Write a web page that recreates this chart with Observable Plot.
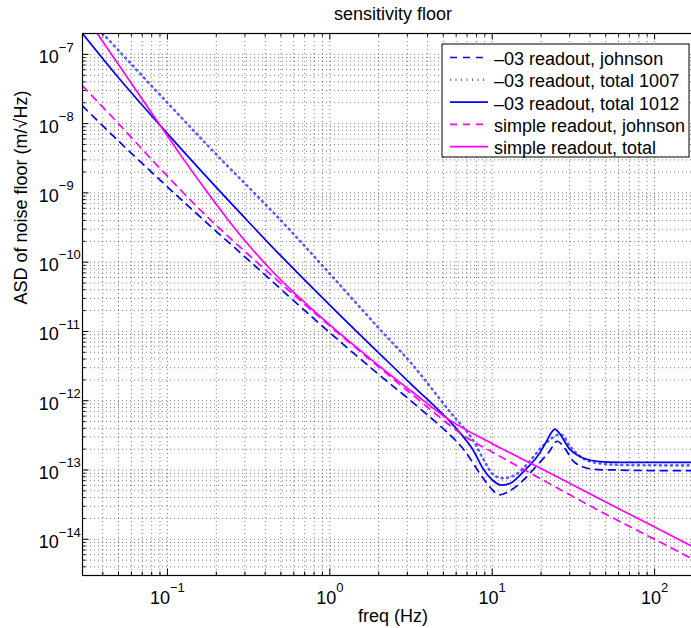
<!DOCTYPE html>
<html><head><meta charset="utf-8">
<script src="https://cdn.jsdelivr.net/npm/d3@7"></script>
<script src="https://cdn.jsdelivr.net/npm/@observablehq/plot@0.6"></script>
<style>
html,body{margin:0;padding:0;background:#fff;overflow:hidden;}
#chart{width:691px;height:628px;overflow:hidden;position:relative;}
</style></head><body><div id="chart"></div>
<script>
// ---- data ----
const seriesNames = ["–03 readout, johnson", "–03 readout, total 1007", "–03 readout, total 1012", "simple readout, johnson", "simple readout, total"];

const fBlueJohnson = [0.03, 0.05, 0.091, 0.156, 0.316, 1, 2, 3.2, 5.5, 6.7, 8.5, 9.8, 11, 13, 15.6, 18.9, 22.3, 25.1, 28.2, 31.8, 38.5, 59, 100, 200];
const aBlueJohnson = [1.8e-8, 5.6e-9, 1.5e-9, 4.7e-10, 1.07e-10, 9.6e-12, 2.4e-12, 9.7e-13, 3.2e-13, 1.95e-13, 8.5e-14, 5.5e-14, 4.4e-14, 5.1e-14, 7.2e-14, 1.17e-13, 1.8e-13, 2.6e-13, 2.0e-13, 1.32e-13, 1.06e-13, 1.0e-13, 9.8e-14, 9.8e-14];

const fBlue1007 = [0.04, 0.05, 0.1, 0.2, 0.5, 1, 2, 3.2, 5.5, 7.4, 8.9, 10.2, 11.8, 14.3, 17.2, 20.8, 25.1, 27, 30.3, 36.6, 46.5, 100, 200];
const aBlue1007 = [2.0e-7, 1.14e-7, 2.0e-8, 3.6e-9, 4.0e-10, 6.8e-11, 1.12e-11, 3.4e-12, 6.9e-13, 3.0e-13, 1.38e-13, 8.5e-14, 7.6e-14, 8.9e-14, 1.38e-13, 2.3e-13, 3.2e-13, 3.2e-13, 2.16e-13, 1.45e-13, 1.24e-13, 1.17e-13, 1.17e-13];

const fBlue1012 = [0.03, 0.05, 0.091, 0.2, 0.31, 0.5, 1, 2, 3.2, 5.5, 7.4, 8.9, 10, 11.2, 13, 15.6, 18.9, 21.8, 23, 24.3, 25.5, 27, 30.3, 36.6, 46.5, 70, 100, 200];
const aBlue1012 = [2.0e-7, 4.6e-8, 9.2e-9, 1.2e-9, 4.0e-10, 1.23e-10, 2.4e-11, 4.9e-12, 1.7e-12, 5.0e-13, 2.16e-13, 1.0e-13, 7.2e-14, 6.1e-14, 6.5e-14, 9.5e-14, 1.55e-13, 2.7e-13, 3.4e-13, 3.9e-13, 3.55e-13, 2.95e-13, 1.95e-13, 1.48e-13, 1.32e-13, 1.29e-13, 1.29e-13, 1.29e-13];

const fSimpleJohnson = [0.03, 0.05, 0.091, 0.173, 0.316, 0.6, 1, 2, 3.2, 6.65, 10, 20, 50, 100, 200];
const aSimpleJohnson = [3.5e-8, 1.0e-8, 2.2e-9, 4.7e-10, 1.28e-10, 3.38e-11, 1.2e-11, 3.07e-12, 1.24e-12, 3.16e-13, 1.82e-13, 7.4e-14, 2.3e-14, 1.0e-14, 4.3e-15];

const fSimpleTotal = [0.037, 0.05, 0.07, 0.091, 0.12, 0.173, 0.24, 0.316, 0.45, 0.6, 1, 2, 3.2, 5.5, 10, 20, 50, 100, 200];
const aSimpleTotal = [2.0e-7, 7.12e-8, 2.25e-8, 9.2e-9, 3.57e-9, 1.08e-9, 3.9e-10, 1.77e-10, 7.1e-11, 3.66e-11, 1.24e-11, 3.22e-12, 1.36e-12, 5.2e-13, 2.4e-13, 1.05e-13, 3.45e-14, 1.5e-14, 6.5e-15];

const xDecades = [0.1, 1, 10, 100];
const xExponents = ["−1", "0", "1", "2"];
const yDecades = [1e-14, 1e-13, 1e-12, 1e-11, 1e-10, 1e-9, 1e-8, 1e-7];
const yExponents = ["−14", "−13", "−12", "−11", "−10", "−9", "−8", "−7"];

const titleText = "sensitivity floor";
const xLabel = "freq (Hz)";
const yLabel = "ASD of noise floor (m/√Hz)";

// ---- layout ----
const FONT = "'Liberation Sans', Arial, Helvetica, sans-serif";
const W = 691, H = 628, mL = 82, mT = 33, mB = 53, mR = -12;
const frameW = W - mL - mR, frameH = H - mT - mB;
const xDomain = [0.03, 200], yDomain = [3e-15, 2e-7];

function logTicks(lo, hi, minorOnly) {
  const out = [];
  const e0 = Math.floor(Math.log10(lo)), e1 = Math.floor(Math.log10(hi));
  for (let e = e0; e <= e1; e++) {
    for (let k = minorOnly ? 2 : 1; k <= 9; k++) {
      const v = +(k * Math.pow(10, e)).toPrecision(4);
      if (v >= lo * 0.999 && v <= hi * 1.001) out.push(v);
    }
  }
  return out;
}
const gridXv = logTicks(...xDomain, false), gridYv = logTicks(...yDomain, false);
const minorXv = logTicks(...xDomain, true), minorYv = logTicks(...yDomain, true);

const rows = (fs, as, key) => fs.map((f, i) => ({f, a: as[i], key}));
const styles = [
  {stroke: "#0000ff", width: 1.7, dash: "7,6", opacity: 1},
  {stroke: "#2a2aff", width: 2.6, dash: "1,4.5", opacity: 0.75},
  {stroke: "#0000ff", width: 1.7, dash: null, opacity: 1},
  {stroke: "#ff00ff", width: 1.7, dash: "7,6", opacity: 1},
  {stroke: "#ff00ff", width: 1.7, dash: null, opacity: 1}
];
const seriesData = [
  rows(fBlueJohnson, aBlueJohnson, seriesNames[0]),
  rows(fBlue1007, aBlue1007, seriesNames[1]),
  rows(fBlue1012, aBlue1012, seriesNames[2]),
  rows(fSimpleJohnson, aSimpleJohnson, seriesNames[3]),
  rows(fSimpleTotal, aSimpleTotal, seriesNames[4])
];

const negX = xDecades.filter((d, i) => xExponents[i].startsWith("−"));
const negXe = xExponents.filter(e => e.startsWith("−"));
const posX = xDecades.filter((d, i) => !xExponents[i].startsWith("−"));
const posXe = xExponents.filter(e => !e.startsWith("−"));

const gridStyle = {stroke: "#000", strokeOpacity: 0.5, strokeDasharray: "1,3", strokeWidth: 1};

const chart = Plot.plot({
  width: W, height: H,
  marginLeft: mL, marginTop: mT, marginBottom: mB, marginRight: mR,
  x: {type: "log", domain: xDomain, axis: null},
  y: {type: "log", domain: yDomain, axis: null},
  style: {fontFamily: FONT, fontSize: "18px", background: "#fff", color: "#000", overflow: "hidden"},
  marks: [
    Plot.ruleX(gridXv, {x: d => d, ...gridStyle}),
    Plot.ruleY(gridYv, {y: d => d, ...gridStyle}),
    ...seriesData.map((data, i) => Plot.line(data, {
      x: "f", y: "a", stroke: styles[i].stroke, strokeWidth: styles[i].width, strokeOpacity: styles[i].opacity,
      strokeDasharray: styles[i].dash, curve: "catmull-rom", clip: true
    })),
    // ticks (inward)
    Plot.tickX(xDecades, {x: d => d, insetTop: frameH - 6.5, stroke: "#000"}),
    Plot.tickX(minorXv, {x: d => d, insetTop: frameH - 3.5, stroke: "#000"}),
    Plot.tickX(xDecades, {x: d => d, insetBottom: frameH - 6.5, stroke: "#000"}),
    Plot.tickX(minorXv, {x: d => d, insetBottom: frameH - 3.5, stroke: "#000"}),
    Plot.tickY(yDecades, {y: d => d, insetRight: frameW - 6.5, stroke: "#000"}),
    Plot.tickY(minorYv, {y: d => d, insetRight: frameW - 3.5, stroke: "#000"}),
    Plot.frame({stroke: "#000", strokeWidth: 1.2}),
    // x tick labels
    Plot.text(negX, {x: d => d, text: () => "10", frameAnchor: "bottom", lineAnchor: "bottom", textAnchor: "end", dx: 2.6, dy: 28.3, fontSize: 18}),
    Plot.text(negX, {x: d => d, text: (d, i) => negXe[i], frameAnchor: "bottom", lineAnchor: "bottom", textAnchor: "start", dx: 2.6, dy: 16.7, fontSize: 13}),
    Plot.text(posX, {x: d => d, text: () => "10", frameAnchor: "bottom", lineAnchor: "bottom", textAnchor: "end", dx: 6.4, dy: 28.3, fontSize: 18}),
    Plot.text(posX, {x: d => d, text: (d, i) => posXe[i], frameAnchor: "bottom", lineAnchor: "bottom", textAnchor: "start", dx: 6.4, dy: 16.7, fontSize: 13}),
    // y tick labels
    Plot.text(yDecades, {y: d => d, text: () => "10", frameAnchor: "left", lineAnchor: "bottom", textAnchor: "start", dx: -43.7, dy: 9, fontSize: 18}),
    Plot.text(yDecades, {y: d => d, text: (d, i) => yExponents[i], frameAnchor: "left", lineAnchor: "bottom", textAnchor: "start", dx: -23.7, dy: -2.7, fontSize: 13}),
    // titles
    Plot.text([titleText], {text: d => d, frameAnchor: "top", lineAnchor: "bottom", dy: -14, fontSize: 18}),
    Plot.text([xLabel], {text: d => d, frameAnchor: "bottom", lineAnchor: "bottom", dy: 46, fontSize: 18}),
    Plot.text([yLabel], {text: d => d, frameAnchor: "left", lineAnchor: "bottom", rotate: -90, dx: -55.3, fontSize: 18})
  ]
});
document.getElementById("chart").appendChild(chart);

// ---- legend (inside the axes, top right) ----
const svg = d3.select(chart);
const lg = svg.append("g").attr("font-family", FONT).attr("font-size", 18).attr("text-anchor", "start");
const lgRight = mL + frameW - 14, lgTop = mT + 11, lgW = 247, lgH = 113;
lg.append("rect").attr("x", lgRight - lgW).attr("y", lgTop).attr("width", lgW).attr("height", lgH)
  .attr("fill", "#fff").attr("stroke", "#000").attr("stroke-width", 1);
seriesNames.forEach((name, i) => {
  const yy = lgTop + 13.5 + 22.3 * i;
  const x0 = lgRight - lgW + 8;
  lg.append("line").attr("x1", x0).attr("x2", x0 + 38).attr("y1", yy).attr("y2", yy)
    .attr("stroke", styles[i].stroke).attr("stroke-width", styles[i].width)
    .attr("stroke-opacity", styles[i].opacity)
    .attr("stroke-dasharray", styles[i].dash);
  lg.append("text").attr("x", x0 + 44).attr("y", yy + 7.6).attr("fill", "#000")
    .attr("text-anchor", "start").text(name);
});
</script></body></html>
